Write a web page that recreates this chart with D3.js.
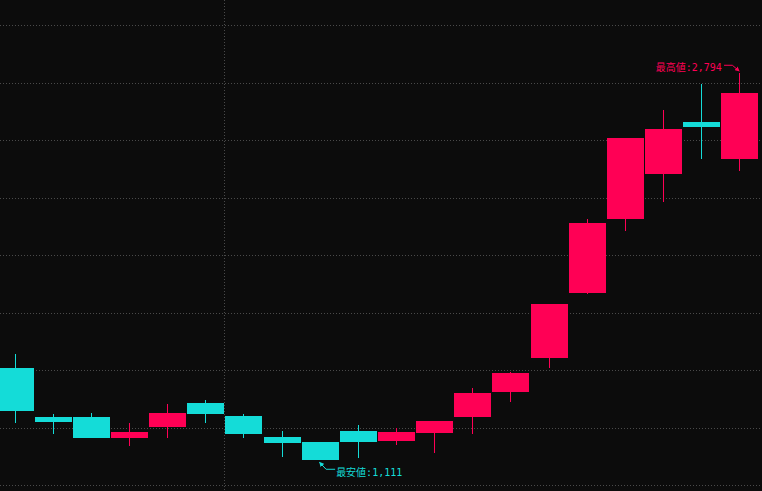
<!DOCTYPE html>
<html><head><meta charset="utf-8">
<script src="https://cdn.jsdelivr.net/npm/d3@7"></script>
<style>html,body{margin:0;padding:0;background:#0c0c0c;overflow:hidden}svg{display:block}</style>
</head><body><svg id="c" width="762" height="491"></svg>
<script>
const categories = ["1","2","3","4","5","6","7","8","9","10","11","12","13","14","15","16","17","18","19","20"];
const opens  = [1512,1299,1299,1209,1257,1360,1303,1212,1190,1238,1195,1230,1299,1409,1557,1840,2161,2357,2582,2422];
const closes = [1326,1279,1209,1234,1317,1313,1227,1186,1113,1190,1234,1282,1403,1490,1790,2143,2512,2551,2561,2708];
const highs  = [1573,1312,1317,1273,1356,1373,1312,1238,1190,1264,1251,1282,1425,1495,1790,2160,2512,2634,2748,2794];
const lows   = [1274,1227,1207,1174,1209,1274,1209,1127,1111,1122,1177,1143,1227,1366,1513,1835,2109,2235,2422,2370];
const gridValues = [1000,1250,1500,1750,2000,2250,2500,2750,3000];
const periodStarts = ["7"];
const highLabel = "最高値";
const lowLabel = "最安値";

const W = 762, H = 491;
const UP = "#ff0055", DOWN = "#14dcd8", GRID = "#4a4a4a";
const svg = d3.select("#c");
svg.append("rect").attr("width", W).attr("height", H).attr("fill", "#0c0c0c");

const PI = 1 - 37 / 38.13;
const x = d3.scaleBand().domain(categories).range([-3.865, 758.735]).paddingInner(PI).paddingOuter(PI / 2);
const y = d3.scaleLinear().domain([1000, 3000]).range([485.8, 25.8]);
const px = v => Math.floor(v) + 0.5;

// grid
svg.append("g").selectAll("line").data(gridValues).join("line")
  .attr("x1", 0).attr("x2", W)
  .attr("y1", d => px(y(d))).attr("y2", d => px(y(d)))
  .attr("stroke", GRID).attr("stroke-width", 1).attr("stroke-dasharray", "1,2");
svg.append("g").selectAll("line").data(periodStarts).join("line")
  .attr("x1", d => px(x(d) - x.step() * x.paddingInner() / 2))
  .attr("x2", d => px(x(d) - x.step() * x.paddingInner() / 2))
  .attr("y1", 0).attr("y2", H)
  .attr("stroke", GRID).attr("stroke-width", 1).attr("stroke-dasharray", "1,2");

const data = categories.map((c, i) => ({c, o: opens[i], h: highs[i], l: lows[i], cl: closes[i]}));
const col = d => d.cl >= d.o ? UP : DOWN;

const g = svg.append("g");
g.selectAll("line.w").data(data).join("line").attr("class", "w")
  .attr("x1", d => px(x(d.c) + x.bandwidth() / 2))
  .attr("x2", d => px(x(d.c) + x.bandwidth() / 2))
  .attr("y1", d => Math.round(y(d.h))).attr("y2", d => Math.round(y(d.l)))
  .attr("stroke", col).attr("stroke-width", 1);
g.selectAll("rect.b").data(data).join("rect").attr("class", "b")
  .attr("x", d => Math.round(x(d.c)))
  .attr("width", Math.round(x.bandwidth()))
  .attr("y", d => Math.round(y(Math.max(d.o, d.cl))))
  .attr("height", d => Math.max(1, Math.round(y(Math.min(d.o, d.cl))) - Math.round(y(Math.max(d.o, d.cl)))))
  .attr("fill", col);

// annotations
const fmt = d3.format(",");
const defs = svg.append("defs");
function marker(id, color) {
  defs.append("marker").attr("id", id).attr("viewBox", "0 0 6 6").attr("refX", 5).attr("refY", 3)
    .attr("markerWidth", 5).attr("markerHeight", 5).attr("orient", "auto")
    .append("path").attr("d", "M0,0L6,3L0,6Z").attr("fill", color);
}
marker("mh", UP); marker("ml", DOWN);
const font = "'DejaVu Sans Mono','Noto Sans CJK JP',monospace";

const hi = d3.maxIndex(highs);
{
  const tx = x(categories[hi]) + x.bandwidth() / 2 - 0.6, ty = y(highs[hi]) - 2.2;
  svg.append("path").attr("d", `M${tx - 15},${ty - 5.7}H${tx - 6.7}L${tx},${ty}`)
    .attr("fill", "none").attr("stroke", UP).attr("stroke-width", 1).attr("marker-end", "url(#mh)");
  svg.append("text").attr("x", tx - 17.3).attr("y", ty + 0.5).attr("text-anchor", "end")
    .attr("fill", UP).attr("font-size", 10).attr("font-family", font)
    .text(highLabel + ":" + fmt(highs[hi]));
}
const lo = d3.minIndex(lows);
{
  const tx = x(categories[lo]) + x.bandwidth() / 2 - 0.6, ty = y(lows[lo]) + 2.2;
  svg.append("path").attr("d", `M${tx + 15.5},${ty + 6.8}H${tx + 6.5}L${tx},${ty}`)
    .attr("fill", "none").attr("stroke", DOWN).attr("stroke-width", 1).attr("marker-end", "url(#ml)");
  svg.append("text").attr("x", tx + 16.5).attr("y", ty + 13.5).attr("text-anchor", "start")
    .attr("fill", DOWN).attr("font-size", 10).attr("font-family", font)
    .text(lowLabel + ":" + fmt(lows[lo]));
}
</script></body></html>
